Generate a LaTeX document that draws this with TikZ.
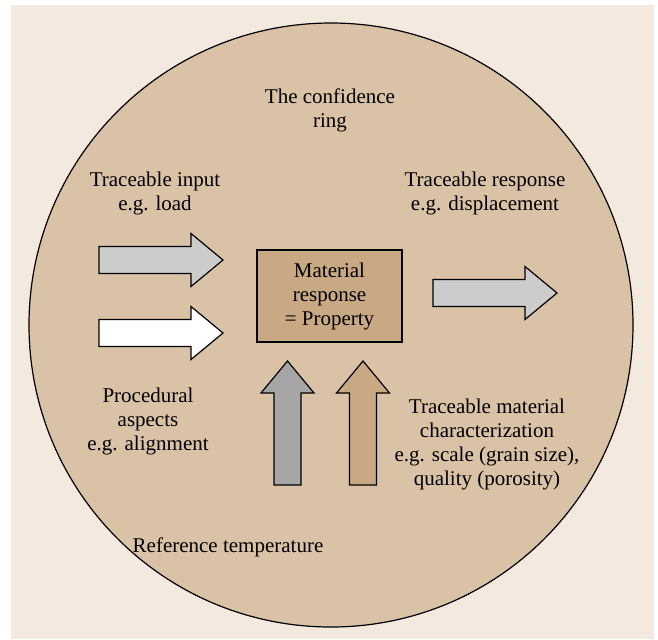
\documentclass[tikz,border=0pt]{standalone}
\usepackage{fontspec}
\setmainfont{Liberation Serif}
\usetikzlibrary{positioning}
\definecolor{paper}{HTML}{F3E9DF}
\definecolor{ringtan}{HTML}{D9C2A5}
\definecolor{boxtan}{HTML}{C9A984}
\definecolor{lightgr}{HTML}{CCCCCC}
\definecolor{darkgr}{HTML}{A6A6A6}
\tikzset{
	label text/.style={align=center, inner sep=0pt,
		font=\rmfamily\fontsize{10.5}{12}\selectfont},
	fat arrow/.pic={
		\draw[pic actions] (0,-13.5) -- (92,-13.5) -- (92,-26.5) -- (124,0)
			-- (92,26.5) -- (92,13.5) -- (0,13.5) -- cycle;},
}

\begin{document}
\begin{tikzpicture}[x=0.5pt, y=-0.5pt, line width=0.6pt]
	\useasboundingbox (0,0) rectangle (658,639);
	\fill[paper] (11,5) rectangle (654,639);
	\node[circle, draw, fill=ringtan, minimum size=302pt, inner sep=0pt] (ring) at (331,325) {};
	\node[draw, fill=boxtan, minimum width=72.5pt, minimum height=46pt, label text] (prop) at (329.5,296) {Material\\response\\= Property};
	\pic[fill=lightgr] (load) at (99,260) {fat arrow};
	\pic[fill=white] (align) at (99,333) {fat arrow};
	\pic[fill=lightgr] (resp) at (433,293) {fat arrow};
	\pic[fill=darkgr, rotate=90] (temp) at (287.5,485) {fat arrow};
	\pic[fill=boxtan, rotate=90] (charac) at (363,485) {fat arrow};
	\node[label text] (ringname) at (330,110) {The confidence\\ring};
	\node[label text] (input) at (155,193) {Traceable input\\e.g. load};
	\node[label text] (output) at (485,193) {Traceable response\\e.g. displacement};
	\node[label text] (proc) at (148,421) {Procedural\\aspects\\e.g. alignment};
	\node[label text] (mat) at (487,444) {Traceable material\\characterization\\e.g. scale (grain size),\\quality (porosity)};
	\node[label text] (reftemp) at (228,547) {Reference temperature};
\end{tikzpicture}
\end{document}
